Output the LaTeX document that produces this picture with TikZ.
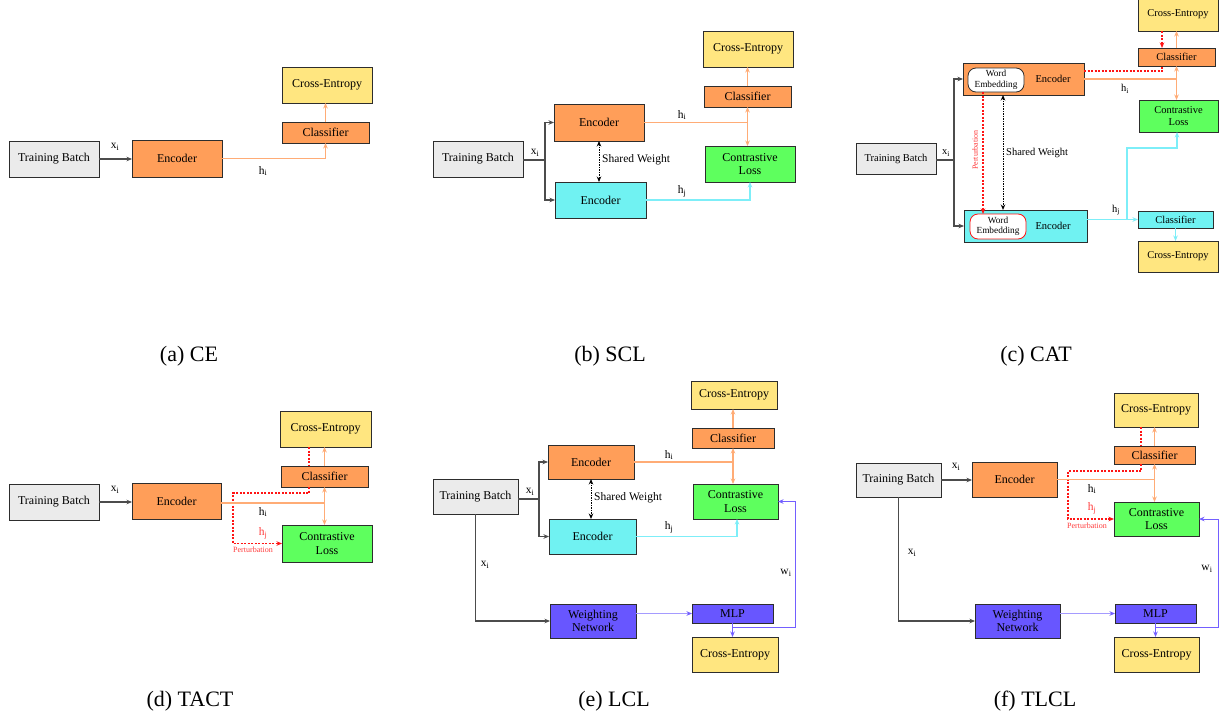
\documentclass[tikz,border=0pt]{standalone}
\usepackage{fontspec}
\setmainfont{Liberation Serif}
\usetikzlibrary{arrows.meta,calc}
\definecolor{bordc}{RGB}{45,45,45}
\definecolor{grayF}{RGB}{235,235,235}
\definecolor{orangeF}{RGB}{255,158,89}
\definecolor{cyanF}{RGB}{112,242,242}
\definecolor{greenF}{RGB}{94,255,94}
\definecolor{yellowF}{RGB}{255,230,128}
\definecolor{purpleF}{RGB}{104,86,255}
\definecolor{lineO}{RGB}{255,172,118}
\definecolor{lineC}{RGB}{125,238,248}
\definecolor{lineP}{RGB}{165,155,255}
\definecolor{lineW}{RGB}{115,95,255}
\definecolor{redL}{RGB}{255,20,20}
\definecolor{redT}{RGB}{255,60,60}
\begin{document}
\begin{tikzpicture}[x=1pt,y=-1pt,
  bxat/.style n args={4}{at={({(#1+#3)/2},{(#2+#4)/2})},minimum width={#3-#1},minimum height={#4-#2}},
  bx/.style={draw=bordc,line width=1pt,inner sep=0pt,outer sep=0pt,align=center,font=\fontsize{12}{13.5}\selectfont},
  sm/.style={font=\fontsize{10.5}{12}\selectfont},
  tb/.style={bx,fill=grayF},
  enc/.style={bx,fill=orangeF},
  encc/.style={bx,fill=cyanF},
  cls/.style={bx,fill=orangeF},
  clsc/.style={bx,fill=cyanF},
  ce/.style={bx,fill=yellowF},
  cl/.style={bx,fill=greenF},
  wn/.style={bx,fill=purpleF},
  we/.style={draw=bordc,line width=0.8pt,fill=white,rounded corners=8pt,inner sep=0pt,outer sep=0pt,align=center,font=\fontsize{9.3}{10.5}\selectfont},
  tip/.tip={Stealth[length=5.5pt,width=4.5pt]},
  bl/.style={draw=black!70,line width=1.2pt,-{tip[fill=black]}},
  gl/.style={draw=black!70,line width=1.2pt},
  ol/.style={draw=lineO,line width=1.2pt},
  cln/.style={draw=lineC,line width=1.2pt},
  pl/.style={draw=lineP,line width=1.2pt},
  wl/.style={draw=lineW,line width=1pt},
  rd/.style={color=redL,line width=1.1pt,dash pattern=on 2pt off 1.5pt},
  rtip/.style={-{tip[color=redL]}},
  sw/.style={draw=black,line width=1pt,dash pattern=on 1.2pt off 1.3pt,{tip}-{tip}},
  lab/.style={font=\fontsize{11.5}{13}\selectfont,inner sep=1pt},
  rlab/.style={lab,text=redT},
  pert/.style={font=\fontsize{8}{9}\selectfont,text=redT,inner sep=0pt},
  captxt/.style={font=\fontsize{22}{24}\selectfont,inner sep=0pt}
]
\useasboundingbox (0,0) rectangle (1230,720);
\fill[white] (0,0) rectangle (1230,720);

% ================= (a) CE =================
\node[tb,bxat={9}{141}{99}{177}] (aTB) {Training Batch};
\node[enc,bxat={132}{140}{222}{177}] (aE) {Encoder};
\node[cls,bxat={282}{122}{369}{143}] (aC) {Classifier};
\node[ce,bxat={282}{67}{372}{103}] (aCE) {Cross-Entropy};
\draw[bl] (aTB) -- (aTB -| aE.west);
\node[lab] (aXl) at (115,147) {x\textsubscript{i}};
\draw[ol,-tip] (aE.east) -| (aC.south);
\draw[ol,-tip] (aC.north) -- (aC.north |- aCE.south);
\node[lab] (aHl) at (263,171) {h\textsubscript{i}};
\node[captxt] (aCap) at (189,356) {(a) CE};

% ================= (b) SCL =================
\node[tb,bxat={433}{141}{523}{177}] (bTB) {Training Batch};
\node[enc,bxat={554}{104}{644}{141}] (bE1) {Encoder};
\node[encc,bxat={555}{182}{646}{218}] (bE2) {Encoder};
\node[cls,bxat={704}{86}{791}{107}] (bC) {Classifier};
\node[ce,bxat={703}{31}{793}{67}] (bCE) {Cross-Entropy};
\node[cl,bxat={705}{146}{795}{182}] (bCL) {Contrastive\\Loss};
\coordinate (bB) at (545,160);
\draw[gl] (bTB.east |- bB) -- (bB);
\draw[bl] (bB) |- (bE1.west);
\draw[bl] (bB) |- (bE2.west);
\node[lab] (bXl) at (535,153) {x\textsubscript{i}};
\draw[sw] (bE1.south) -- (bE1.south |- bE2.north);
\node[lab,anchor=west] (bSW) at (601,160) {Shared Weight};
\draw[ol] (bE1.east) -- (bE1.east -| bC);
\draw[ol,{tip}-{tip}] (bC.south) -- (bC.south |- bCL.north);
\draw[ol,-tip] (bC.north) -- (bC.north |- bCE.south);
\draw[cln,-tip] (bE2.east) -| (bCL.south);
\node[lab] (bHi) at (682,115) {h\textsubscript{i}};
\node[lab] (bHj) at (682,191) {h\textsubscript{j}};
\node[captxt] (bCap) at (610,356) {(b) SCL};

% ================= (c) CAT =================
\node[tb,sm,bxat={856}{143}{936}{174}] (cTB) {Training Batch};
\node[enc,bxat={963}{63}{1084}{95}] (cE1) {};
\node[we,bxat={968}{68}{1024}{92}] (cW1) {Word\\Embedding};
\node[sm] (cE1t) at (1053,79) {Encoder};
\node[encc,bxat={964}{210}{1087}{242}] (cE2) {};
\node[we,draw=redL,bxat={970}{214}{1026}{239}] (cW2) {Word\\Embedding};
\node[sm] (cE2t) at (1053,226) {Encoder};
\node[cls,sm,bxat={1138}{48}{1215}{66}] (cC1) {Classifier};
\node[ce,sm,bxat={1138}{-3}{1218}{31}] (cCE1) {Cross-Entropy};
\node[cl,sm,bxat={1139}{100}{1218}{132}] (cCL) {Contrastive\\Loss};
\node[clsc,sm,bxat={1138}{211}{1213}{228}] (cC2) {Classifier};
\node[ce,sm,bxat={1138}{241}{1218}{272}] (cCE2) {Cross-Entropy};
\coordinate (cB) at (954,160);
\draw[gl] (cTB.east |- cB) -- (cB);
\draw[bl] (cB) |- (cE1.west);
\draw[bl] (cB) |- (cE2.west);
\node[lab,sm] (cXl) at (946,153) {x\textsubscript{i}};
\coordinate (cP1) at ($(cW1.south)+(-13,0)$);
\draw[rd,rtip] (cP1) -- (cP1 |- cW2.north);
\node[pert,rotate=90] (cPert) at (975,150) {Perturbation};
\coordinate (cS1) at ($(cE1.south)+(-20.5,0)$);
\draw[sw] (cS1) -- (cS1 |- cE2.north);
\node[lab,sm,anchor=west] (cSW) at (1005,153) {Shared Weight};
\coordinate (cR1) at ($(cE1.east)+(0,-8)$);
\coordinate (cR2) at ($(cC1.south)+(-14.5,0)$);
\draw[rd] (cR1) -| (cR2);
\coordinate (cR3) at ($(cC1.north)+(-14.5,0)$);
\draw[rd,rtip] (cR3 |- cCE1.south) -- (cR3);
\draw[ol,-tip] (cC1.north) -- (cC1.north |- cCE1.south);
\draw[ol] (cE1.east) -- (cE1.east -| cC1);
\draw[ol,{tip}-{tip}] (cC1.south) -- (cC1.south |- cCL.north);
\draw[cln,-tip] (cE2.east |- cC2.west) -- (cC2.west);
\coordinate (cJ1) at ($(cC2.west)+(-11,0)$);
\coordinate (cJ2) at ($(cCL.south)+(-1.5,16)$);
\coordinate (cJ3) at ($(cCL.south)+(-1.5,0)$);
\draw[cln,-tip] (cJ1) |- (cJ2) -- (cJ3);
\draw[cln,-tip] (cC2.south) -- (cC2.south |- cCE2.north);
\node[lab,sm] (cHi) at (1125,89) {h\textsubscript{i}};
\node[lab,sm] (cHj) at (1116,210) {h\textsubscript{j}};
\node[captxt] (cCap) at (1036,356) {(c) CAT};

% ================= (d) TACT =================
\node[tb,bxat={9}{484}{99}{520}] (dTB) {Training Batch};
\node[enc,bxat={132}{483}{221}{519}] (dE) {Encoder};
\node[cls,bxat={281}{466}{368}{487}] (dC) {Classifier};
\node[ce,bxat={280}{411}{371}{447}] (dCE) {Cross-Entropy};
\node[cl,bxat={282}{525}{372}{562}] (dCL) {Contrastive\\Loss};
\draw[bl] (dTB) -- (dTB -| dE.west);
\node[lab] (dXl) at (115,490) {x\textsubscript{i}};
\coordinate (dR1) at ($(dC.north)+(-15.5,0)$);
\draw[rd] (dR1 |- dCE.south) -- (dR1);
\coordinate (dR2) at ($(dC.south)+(-15.5,0)$);
\coordinate (dR3) at ($(dCL.west)+(-49,0)$);
\draw[rd,rtip] (dR2) -- ++(0,6) -| (dR3) -- (dCL.west);
\coordinate (dH) at ($(dE.east)+(0,2)$);
\draw[ol] (dH) -- (dH -| dC);
\draw[ol,{tip}-{tip}] (dC.south) -- (dC.south |- dCL.north);
\draw[ol,-tip] (dC.north) -- (dC.north |- dCE.south);
\node[lab] (dHi) at (263,512) {h\textsubscript{i}};
\node[rlab] (dHj) at (263,533) {h\textsubscript{j}};
\node[pert] (dPert) at (253,550) {Perturbation};
\node[captxt] (dCap) at (190,701) {(d) TACT};

% ================= (e) LCL =================
\node[tb,bxat={433}{479}{518}{514}] (eTB) {Training Batch};
\node[enc,bxat={548}{445}{634}{479}] (eE1) {Encoder};
\node[encc,bxat={549}{519}{636}{554}] (eE2) {Encoder};
\node[cls,bxat={692}{428}{774}{448}] (eC) {Classifier};
\node[ce,bxat={691}{381}{777}{409}] (eCE1) {Cross-Entropy};
\node[cl,bxat={693}{484}{778}{519}] (eCL) {Contrastive\\Loss};
\node[wn,bxat={550}{604}{636}{638}] (eWN) {Weighting\\Network};
\node[wn,bxat={692}{604}{773}{623}] (eMLP) {MLP};
\node[ce,bxat={692}{637}{778}{672}] (eCE2) {Cross-Entropy};
\coordinate (eB) at (539,499);
\draw[gl] (eTB.east |- eB) -- (eB);
\draw[bl] (eB) |- (eE1.west);
\draw[bl] (eB) |- (eE2.west);
\node[lab] (eXl) at (530,492) {x\textsubscript{i}};
\draw[sw] (eE1.south) -- (eE1.south |- eE2.north);
\node[lab,anchor=west] (eSW) at (593,498) {Shared Weight};
\draw[ol] (eE1.east) -- (eE1.east -| eC);
\draw[ol,{tip}-{tip}] (eC.south) -- (eC.south |- eCL.north);
\draw[ol,-tip] (eC.north) -- (eC.north |- eCE1.south);
\coordinate (eJ) at ($(eCL.south)+(1.5,0)$);
\draw[cln,-tip] (eE2.east) -| (eJ);
\node[lab] (eHi) at (669,455) {h\textsubscript{i}};
\node[lab] (eHj) at (669,527) {h\textsubscript{j}};
\draw[bl] (eTB.south) |- (eWN.west);
\node[lab] (eXl2) at (485,565) {x\textsubscript{i}};
\draw[pl,-{tip[color=lineW]}] (eWN.east |- eMLP.west) -- (eMLP.west);
\draw[wl,-tip] (eMLP.south) -- (eMLP.south |- eCE2.north);
\coordinate (eW1) at ($(eMLP.south)+(0,4)$);
\coordinate (eW2) at ($(eCL.east)+(17,0)$);
\draw[wl,-tip] (eW1) -| (eW2) -- (eCL.east);
\node[lab] (eWl) at (786,573) {w\textsubscript{i}};
\node[captxt] (eCap) at (614,701) {(e) LCL};

% ================= (f) TLCL =================
\node[tb,bxat={856}{463}{941}{497}] (fTB) {Training Batch};
\node[enc,bxat={972}{462}{1057}{497}] (fE) {Encoder};
\node[cls,bxat={1114}{446}{1195}{464}] (fC) {Classifier};
\node[ce,bxat={1114}{393}{1198}{427}] (fCE1) {Cross-Entropy};
\node[cl,bxat={1114}{502}{1199}{536}] (fCL) {Contrastive\\Loss};
\node[wn,bxat={975}{604}{1060}{638}] (fWN) {Weighting\\Network};
\node[wn,bxat={1115}{604}{1196}{623}] (fMLP) {MLP};
\node[ce,bxat={1114}{637}{1199}{672}] (fCE2) {Cross-Entropy};
\draw[bl] (fTB) -- (fTB -| fE.west);
\node[lab] (fXl) at (956,467) {x\textsubscript{i}};
\coordinate (fR1) at ($(fC.north)+(-13.5,0)$);
\draw[rd] (fR1 |- fCE1.south) -- (fR1);
\coordinate (fR2) at ($(fC.south)+(-13.5,0)$);
\coordinate (fR3) at ($(fCL.west)+(-46,0)$);
\draw[rd,rtip] (fR2) -- ++(0,7) -| (fR3) -- (fCL.west);
\draw[ol] (fE.east) -- (fE.east -| fC);
\draw[ol,{tip}-{tip}] (fC.south) -- (fC.south |- fCL.north);
\draw[ol,-tip] (fC.north) -- (fC.north |- fCE1.south);
\node[lab] (fHi) at (1092,489) {h\textsubscript{i}};
\node[rlab] (fHj) at (1092,508) {h\textsubscript{j}};
\node[pert] (fPert) at (1087,526) {Perturbation};
\draw[bl] (fTB.south) |- (fWN.west);
\node[lab] (fXl2) at (912,553) {x\textsubscript{i}};
\draw[pl,-{tip[color=lineW]}] (fWN.east |- fMLP.west) -- (fMLP.west);
\draw[wl,-tip] (fMLP.south) -- (fMLP.south |- fCE2.north);
\coordinate (fW1) at ($(fMLP.south)+(0,4)$);
\coordinate (fW2) at ($(fCL.east)+(19,0)$);
\draw[wl,-tip] (fW1) -| (fW2) -- (fCL.east);
\node[lab] (fWl) at (1207,569) {w\textsubscript{i}};
\node[captxt] (fCap) at (1035,701) {(f) TLCL};
\end{tikzpicture}
\end{document}
